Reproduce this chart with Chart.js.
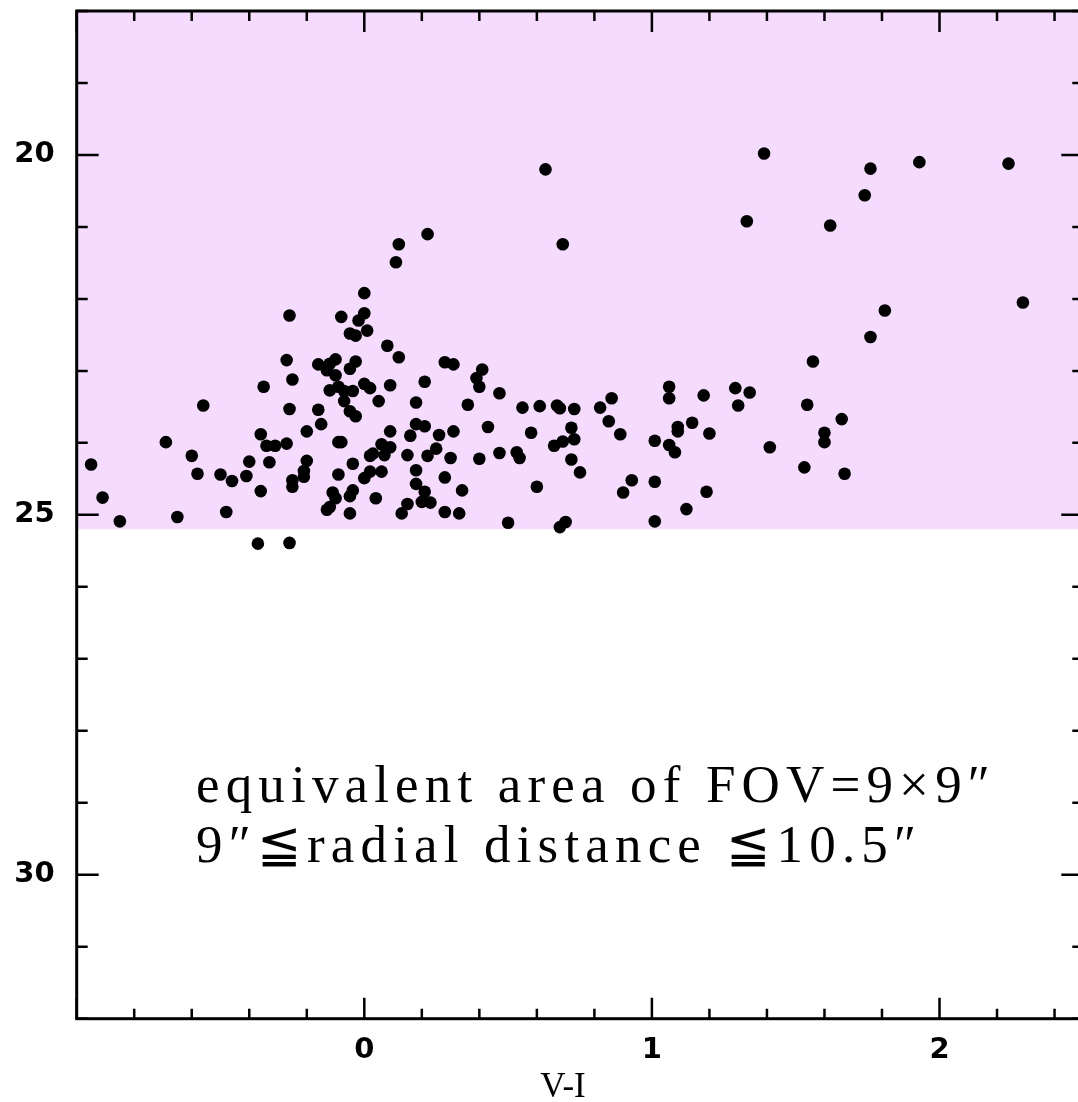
<!DOCTYPE html>
<html><head><meta charset="utf-8">
<script src="https://cdn.jsdelivr.net/npm/chart.js@4.4.1/dist/chart.umd.min.js"></script>
<style>html,body{margin:0;padding:0;overflow:hidden;background:#fff}#wrap{width:1092px;height:1102px}</style>
</head><body><div id="wrap"><canvas id="c" width="1092" height="1102"></canvas></div>
<script>
// V-I colour of each star
const colourVI = [
 0.63,1.39,1.76,1.93,2.24,1.74,1.33,1.62,0.69,0.12,0.22,0.11,0.00,2.29,1.81,1.76,1.56,1.29,1.34,1.18,
 1.30,1.54,1.66,1.20,1.60,1.60,1.41,1.53,1.67,1.19,
 0.28,0.31,0.41,0.39,0.40,0.21,0.18,0.47,0.36,0.55,0.61,0.67,0.68,0.73,0.82,0.86,1.06,1.06,0.18,0.21,
 0.16,0.26,0.31,0.43,0.58,0.72,0.85,0.89,0.73,0.69,0.66,1.01,1.06,1.08,1.09,1.09,1.14,0.15,0.22,0.25,
 0.30,0.40,0.47,0.53,0.54,0.72,0.75,0.18,0.28,0.18,0.21,0.34,0.60,0.93,1.01,0.90,1.12,0.15,0.13,0.20,
 0.23,0.28,0.33,0.50,0.68,0.70,1.01,
 -0.26,-0.08,0.00,-0.02,0.01,-0.05,-0.03,0.08,0.12,-0.27,-0.16,-0.13,-0.10,-0.12,-0.05,-0.03,-0.10,-0.25,-0.35,-0.12,
 -0.09,-0.07,-0.04,0.00,0.02,0.09,-0.07,0.05,-0.56,-0.26,-0.16,-0.05,-0.03,-0.15,-0.20,-0.36,-0.34,-0.31,-0.27,-0.69,
 -0.09,-0.08,0.09,0.06,0.09,0.03,0.07,0.02,-0.60,-0.95,-0.40,-0.33,-0.20,-0.04,-0.09,-0.21,-0.21,0.06,0.02,0.00,
 -0.58,-0.50,-0.46,-0.41,-0.36,-0.25,-0.25,-0.04,-0.05,-0.11,-0.10,0.04,-0.91,-0.85,-0.65,-0.48,-0.13,-0.12,-0.05,-0.37,
 -0.26
];
// V magnitude of each star
const magV = [
 20.20,19.98,20.19,20.10,20.12,20.56,20.92,20.98,21.24,21.24,21.10,21.49,21.92,22.05,22.16,22.53,22.87,23.24,23.30,23.34,
 23.48,23.47,23.67,23.87,23.86,23.99,24.06,24.34,24.43,24.68,
 22.88,22.91,22.98,23.10,23.22,23.15,23.44,23.31,23.47,23.51,23.49,23.48,23.52,23.53,23.51,23.38,23.22,23.38,23.74,23.77,
 23.90,23.89,23.84,23.78,23.86,23.79,23.70,23.88,23.95,23.98,24.04,23.97,24.03,24.13,23.78,23.84,23.72,24.17,24.18,24.08,
 24.21,24.22,24.14,24.13,24.21,24.23,24.41,24.38,24.48,24.57,24.68,24.66,24.61,24.52,24.54,24.69,24.92,24.85,24.98,24.82,
 24.83,24.96,24.98,25.11,25.17,25.10,25.09,
 22.23,22.25,22.20,22.30,22.44,22.48,22.51,22.65,22.81,22.85,22.91,22.99,22.84,22.90,22.97,22.87,23.06,23.12,23.22,23.27,
 23.22,23.28,23.28,23.18,23.24,23.20,23.42,23.42,23.48,23.53,23.54,23.56,23.63,23.74,23.84,23.88,24.04,24.04,24.01,23.99,
 23.99,23.99,23.84,24.02,24.06,24.15,24.17,24.18,24.18,24.30,24.26,24.27,24.25,24.29,24.44,24.39,24.47,24.40,24.40,24.49,
 24.43,24.44,24.53,24.46,24.67,24.52,24.61,24.66,24.74,24.69,24.77,24.77,24.76,25.09,25.03,24.96,24.93,24.89,24.98,25.40,
 25.39
];
const xRange = [-1, 2.5];
const yRange = [18, 32];
const xLabelTicks = [0, 1, 2];
const yLabelTicks = [20, 25, 30];
const xMinorStep = 0.2;
const yMinorStep = 1;
const shadeLimit = 25.2;
const noteLines = ['equivalent area of FOV=9×9″', '9″≦radial distance ≦10.5″'];
const axisTitle = 'V-I';

const points = colourVI.map((v, i) => ({x: v, y: magV[i]}));
const near = (a, b) => Math.abs(a - b) < 1e-6;
const zeroPad = s => { s.paddingTop = 0; s.paddingBottom = 0; s.paddingLeft = 0; s.paddingRight = 0; };

const framePlugin = {
  id: 'frame',
  beforeDatasetsDraw(chart) {
    const {ctx, chartArea: a, scales: {y}} = chart;
    ctx.save();
    ctx.fillStyle = '#f5dbfd';
    const yb = y.getPixelForValue(shadeLimit);
    ctx.fillRect(a.left, a.top, a.right - a.left, yb - a.top);
    ctx.restore();
  },
  afterDraw(chart) {
    const {ctx, chartArea: a, scales: {x, y}} = chart;
    ctx.save();
    ctx.strokeStyle = '#000';
    ctx.lineWidth = 2.5;
    ctx.beginPath();
    const nx = Math.round((xRange[1] - xRange[0]) / xMinorStep);
    for (let i = 0; i <= nx; i++) {
      const v = xRange[0] + i * xMinorStep;
      const major = near(v, Math.round(v));
      const L = major ? 21 : 10;
      const px = x.getPixelForValue(v);
      ctx.moveTo(px, a.bottom); ctx.lineTo(px, a.bottom - L);
      ctx.moveTo(px, a.top); ctx.lineTo(px, a.top + L);
    }
    const ny = Math.round((yRange[1] - yRange[0]) / yMinorStep);
    for (let i = 0; i <= ny; i++) {
      const v = yRange[0] + i * yMinorStep;
      const major = near(v % 5, 0);
      const L = major ? 22 : 11;
      const py = y.getPixelForValue(v);
      ctx.moveTo(a.left, py); ctx.lineTo(a.left + L, py);
      ctx.moveTo(a.right, py); ctx.lineTo(a.right - L, py);
    }
    ctx.stroke();
    ctx.lineWidth = 3;
    ctx.strokeRect(a.left, a.top, a.right - a.left, a.bottom - a.top);

    // axis title
    ctx.fillStyle = '#000';
    ctx.font = '35px "Liberation Serif"';
    ctx.textAlign = 'center';
    ctx.textBaseline = 'alphabetic';
    ctx.fillText(axisTitle, 563, 1097);

    // annotation
    ctx.textAlign = 'left';
    ctx.font = '53px "Liberation Serif"';
    if ('letterSpacing' in ctx) ctx.letterSpacing = '0px';
    const w = ctx.measureText(noteLines[0]).width;
    const n = [...noteLines[0]].length;
    const sp = (794 - w) / (n - 1);
    if ('letterSpacing' in ctx) ctx.letterSpacing = sp.toFixed(2) + 'px';
    ctx.fillText(noteLines[0], 196, 802);
    ctx.fillText(noteLines[1], 196, 862);
    ctx.restore();
  }
};

new Chart(document.getElementById('c'), {
  type: 'scatter',
  data: {datasets: [{data: points, backgroundColor: '#000', borderWidth: 0, pointRadius: 6.3, pointHoverRadius: 6.3}]},
  options: {
    responsive: false, animation: false, devicePixelRatio: 1,
    layout: {padding: {top: 11, right: 8.7, left: 0, bottom: 0}},
    plugins: {legend: {display: false}, tooltip: {enabled: false}},
    scales: {
      x: {
        type: 'linear', min: xRange[0], max: xRange[1],
        grid: {display: false, drawTicks: false}, border: {display: false},
        afterFit(s) { s.height = 83.3; zeroPad(s); },
        afterBuildTicks(s) { s.ticks = xLabelTicks.map(v => ({value: v})); },
        ticks: {padding: 14, color: '#000', font: {family: 'DejaVu Sans', size: 29, weight: 'bold'}, callback: v => String(v)}
      },
      y: {
        type: 'linear', min: yRange[0], max: yRange[1], reverse: true,
        grid: {display: false, drawTicks: false}, border: {display: false},
        afterFit(s) { s.width = 76.7; zeroPad(s); },
        afterBuildTicks(s) { s.ticks = yLabelTicks.map(v => ({value: v})); },
        ticks: {padding: 22, color: '#000', font: {family: 'DejaVu Sans', size: 29, weight: 'bold'}, callback: v => String(v)}
      }
    }
  },
  plugins: [framePlugin]
});
</script></body></html>
